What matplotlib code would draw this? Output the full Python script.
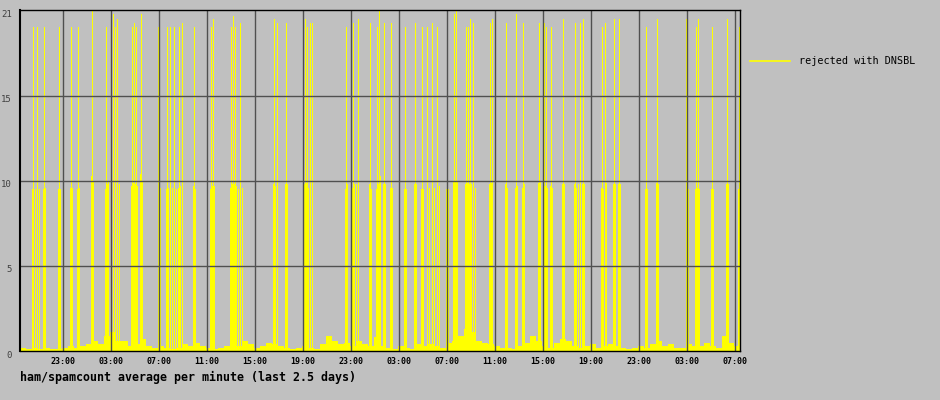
import matplotlib
matplotlib.use('Agg')
import matplotlib.pyplot as plt
from matplotlib.transforms import offset_copy
import numpy as np

BG = '#c0c0c0'
YEL = '#ffff00'
GRID = '#505050'
MONO = 'DejaVu Sans Mono'

# samples are 5-minute steps, 12 per hour; axis starts at 19:25
start_clock = 19 + 25 / 60
n_hours = 60

# tall spikes (sample index, value)
tall_idx = [13, 17, 24, 39, 51, 58, 72, 86, 93, 95, 97, 112, 114, 116, 121, 138, 147, 150,
            154, 159, 162, 174, 191, 193, 211, 213, 215, 220, 254, 257, 266, 285, 287, 290,
            292, 326, 333, 338, 350, 357, 359, 364, 371, 385, 395, 402, 407, 412, 417, 427,
            434, 436, 446, 448, 450, 453, 470, 472, 486, 496, 503, 519, 524, 526, 531, 543,
            555, 560, 563, 582, 585, 594, 599, 626, 637, 666, 676, 678, 692, 707, 719]
tall_val = [19.06, 19.06, 19.06, 19.06, 19.06, 19.06, 20.0, 19.06, 19.8, 19.06, 19.5, 19.06,
            19.3, 19.06, 19.8, 19.06, 19.06, 19.06, 19.06, 19.06, 19.3, 19.06, 19.06, 19.5,
            19.06, 19.7, 19.06, 19.3, 19.5, 19.3, 19.3, 19.5, 19.06, 19.3, 19.3, 19.06, 19.3,
            19.5, 19.3, 19.06, 20.0, 19.3, 19.3, 19.06, 19.3, 19.06, 19.06, 19.3, 19.06, 19.06,
            19.8, 20.0, 19.06, 19.06, 19.5, 19.3, 19.3, 19.5, 19.3, 19.8, 19.3, 19.3, 19.3,
            19.06, 19.06, 19.5, 19.3, 19.3, 19.5, 19.06, 19.3, 19.5, 19.5, 19.06, 19.5, 19.5,
            19.06, 19.5, 19.06, 19.5, 19.06]

# mid-level spikes (sample index, value)
mid_idx = [12, 13, 15, 17, 19, 23, 25, 38, 40, 50, 52, 57, 59, 71, 73, 85, 87, 88,
           91, 93, 95, 97, 99, 111, 113, 115, 117, 120, 122, 138, 140,
           146, 148, 150, 152, 154, 156, 158, 160, 162, 173, 175, 190, 192, 194,
           210, 212, 214, 216, 218, 220, 222, 253, 255, 257, 265, 267,
           284, 286, 288, 290, 292, 325, 327, 332, 334, 336, 338, 349, 351,
           356, 358, 360, 363, 365, 370, 372, 384, 386, 394, 396, 401, 403,
           407, 409, 412, 414, 417, 419, 426, 428, 433, 435, 437,
           445, 447, 449, 451, 453, 455, 469, 471, 485, 487, 495, 497, 502, 504,
           518, 520, 523, 525, 527, 530, 532, 542, 544,
           554, 556, 558, 560, 562, 564, 581, 583, 585, 586, 593, 595, 598, 600,
           625, 627, 636, 638, 666, 668, 675, 677, 679, 691, 693, 706, 708, 718, 720]
mid_val = [9.5, 9.5, 9.5, 9.5, 9.5, 9.5, 9.6, 9.5, 9.5, 9.6, 9.6, 9.5, 9.6, 10.3, 10.0, 9.5, 9.8, 10.0,
           10.0, 9.8, 9.8, 9.7, 9.8, 9.7, 9.9, 9.8, 9.7, 10.4, 10.0, 10.0, 9.6,
           9.5, 9.6, 9.5, 9.6, 9.5, 9.5, 9.6, 9.7, 9.8, 9.7, 9.5, 9.5, 9.7, 9.7,
           9.6, 9.8, 9.8, 9.7, 9.5, 9.6, 9.6, 9.8, 9.7, 9.5, 9.8, 9.8,
           9.8, 9.9, 9.6, 9.8, 10.0, 9.5, 9.8, 9.6, 9.8, 9.8, 9.8, 9.8, 9.5,
           9.5, 9.8, 10.3, 9.8, 9.8, 9.6, 9.6, 9.5, 9.5, 9.8, 9.8, 9.5, 9.5,
           9.6, 9.6, 9.6, 9.6, 9.7, 9.7, 9.5, 9.5, 10.0, 10.0, 10.0,
           9.8, 9.9, 9.8, 9.8, 9.7, 9.6, 9.8, 9.9, 9.8, 9.6, 9.6, 9.7, 9.6, 9.8,
           9.9, 10.0, 9.8, 9.7, 9.6, 9.7, 9.6, 9.8, 9.8,
           9.8, 9.6, 9.8, 9.8, 9.8, 9.8, 9.6, 9.5, 9.9, 9.9, 9.8, 9.8, 9.8, 9.8,
           9.5, 9.5, 9.9, 9.8, 9.8, 9.5, 9.5, 9.6, 9.5, 9.5, 9.5, 9.8, 9.8, 9.5, 9.6]

# background level, half-hour averages
base_val = [0.2, 0.1, 0.2, 0.1, 0.2, 0.1, 0.1, 0.2, 0.3, 0.2,
            0.3, 0.4, 0.6, 0.4, 0.9, 1.1, 0.6, 0.6, 0.3, 0.4,
            0.7, 0.3, 0.2, 0.3, 0.2, 0.1, 0.2, 0.4, 0.3, 0.5,
            0.3, 0.2, 0.1, 0.2, 0.3, 0.2, 0.3, 0.6, 0.4, 0.2,
            0.3, 0.5, 0.4, 0.3, 0.2, 0.1, 0.2, 0.3, 0.2, 0.1,
            0.4, 0.9, 0.6, 0.4, 0.5, 0.3, 0.6, 0.4, 0.3, 0.8,
            0.3, 0.2, 0.1, 0.3, 0.2, 0.1, 0.4, 0.3, 0.4, 0.3,
            0.2, 0.5, 0.6, 0.9, 1.3, 1.1, 0.6, 0.5, 0.4, 0.3,
            0.2, 0.2, 0.1, 0.3, 0.5, 0.9, 0.6, 0.3, 0.2, 0.5,
            0.7, 0.6, 0.3, 0.2, 0.3, 0.4, 0.2, 0.3, 0.4, 0.3,
            0.2, 0.1, 0.2, 0.3, 0.2, 0.4, 0.6, 0.3, 0.4, 0.2,
            0.2, 0.4, 0.3, 0.3, 0.5, 0.3, 0.2, 0.9, 0.5, 0.3]

ytick_vals = [0, 5, 10, 15, 20]
ytick_labels = ['0', '5', '10', '15', '21']

fig = plt.figure(figsize=(9.4, 4.0), dpi=100)
fig.patch.set_facecolor(BG)
ax = fig.add_axes([20 / 940, 49 / 400, 720 / 940, 341 / 400])
ax.set_facecolor(BG)

# data
bx = np.arange(len(base_val) + 1) * 0.5
by = base_val + [base_val[-1]]
ax.fill_between(bx, 0, by, step='post', color=YEL, linewidth=0, antialiased=False, zorder=1)
ax.vlines(np.array(mid_idx) / 12, 0, mid_val, color=YEL, linewidth=0.5, antialiased=False, zorder=2)
ax.vlines(np.array(tall_idx) / 12, 0, tall_val, color=YEL, linewidth=0.5, antialiased=False, zorder=2)

ax.set_xlim(0, n_hours)
ax.set_ylim(0, 341 / 17)

# grid
first = (23 - start_clock) % 4
xt = np.arange(first, n_hours, 4)
xl = ['%02d:00' % int(round((start_clock + h) % 24)) for h in xt]
for x in xt:
    ax.axvline(x, color=GRID, linewidth=1, zorder=3)
for v in ytick_vals[1:4]:
    ax.axhline(v, color=GRID, linewidth=1, zorder=3)

ax.set_xticks(xt)
ax.set_xticklabels(xl, fontfamily=MONO, fontweight='bold', fontsize=6, color='black')
ax.tick_params(axis='x', length=0, pad=4)
ax.set_yticks([])

ytr = offset_copy(ax.get_yaxis_transform(), fig=fig, x=-8, y=-4, units='dots')
for v, l in zip(ytick_vals, ytick_labels):
    ax.text(0, v, l, transform=ytr, ha='right', va='center', fontfamily=MONO,
            fontsize=6.5, color='#404040')

for s in ax.spines.values():
    s.set_color('black')
    s.set_linewidth(1)
    s.set_zorder(4)
ax.spines['left'].set_linewidth(1.5)

# legend
fig.lines.append(plt.Line2D([750 / 940, 790 / 940], [1 - 61 / 400] * 2, color=YEL,
                            linewidth=1.2, transform=fig.transFigure))
fig.text(799 / 940, 1 - 61 / 400, 'rejected with DNSBL', ha='left', va='center',
         fontfamily=MONO, fontsize=7.3, color='black')

fig.text(20 / 940, 1 - 377 / 400, 'ham/spamcount average per minute (last 2.5 days)',
         ha='left', va='center', fontfamily=MONO, fontweight='bold', fontsize=8.4, color='black')

fig.savefig('out.png', dpi=100, facecolor=BG)
